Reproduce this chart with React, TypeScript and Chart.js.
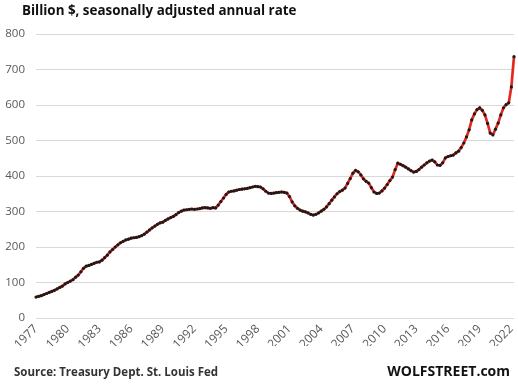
import React, { useEffect, useRef } from "react";
import { Chart, registerables } from "chart.js";

Chart.register(...registerables);

const startYear = 1977;
const yearTicks = ["1977","1980","1983","1986","1989","1992","1995","1998","2001","2004","2007","2010","2013","2016","2019","2022"];
const yTickValues = [0, 100, 200, 300, 400, 500, 600, 700, 800];

// Quarterly values, billion $, 1977Q1 .. 2022Q2
const values = [
  59, 61, 63, 66,      // 1977
  69, 72, 75, 78,      // 1978
  82, 86, 90, 96,      // 1979
  100, 104, 108, 115,  // 1980
  121, 130, 140, 146,  // 1981
  148, 151, 154, 157,  // 1982
  158, 163, 170, 177,  // 1983
  186, 193, 200, 206,  // 1984
  212, 216, 220, 222,  // 1985
  225, 226, 227, 229,  // 1986
  232, 236, 242, 248,  // 1987
  254, 259, 264, 268,  // 1988
  270, 275, 279, 283,  // 1989
  286, 291, 297, 301,  // 1990
  304, 305, 306, 307,  // 1991
  306, 307, 308, 310,  // 1992
  311, 310, 309, 311,  // 1993
  310, 318, 328, 338,  // 1994
  348, 355, 357, 358,  // 1995
  360, 362, 363, 364,  // 1996
  365, 367, 369, 371,  // 1997
  370, 369, 364, 357,  // 1998
  352, 351, 352, 353,  // 1999
  354, 355, 354, 352,  // 2000
  342, 327, 316, 309,  // 2001
  304, 301, 299, 296,  // 2002
  292, 290, 292, 296,  // 2003
  301, 306, 313, 322,  // 2004
  332, 341, 350, 356,  // 2005
  360, 366, 379, 393,  // 2006
  408, 416, 412, 403,  // 2007
  392, 385, 380, 367,  // 2008
  355, 351, 352, 358,  // 2009
  366, 376, 387, 397,  // 2010
  418, 436, 433, 429,  // 2011
  425, 420, 415, 411,  // 2012
  413, 418, 425, 431,  // 2013
  437, 442, 445, 440,  // 2014
  431, 430, 437, 451,  // 2015
  455, 457, 459, 465,  // 2016
  470, 480, 493, 510,  // 2017
  530, 558, 575, 587,  // 2018
  592, 585, 572, 548,  // 2019
  521, 516, 532, 549,  // 2020
  572, 592, 601, 606,  // 2021
  651, 736             // 2022
];

const quarters = values.map((_, i) => `${startYear + Math.floor(i / 4)}Q${(i % 4) + 1}`);

export default function App() {
  const ref = useRef<HTMLCanvasElement | null>(null);

  useEffect(() => {
    if (!ref.current) return;
    const chart = new Chart(ref.current, {
      type: "line",
      data: {
        labels: quarters,
        datasets: [
          {
            data: values,
            borderColor: "#e2281f",
            borderWidth: 2.7,
            pointRadius: 1.6,
            pointBackgroundColor: "#1a1a1a",
            pointBorderWidth: 0,
            tension: 0,
          },
        ],
      },
      options: {
        animation: false,
        responsive: false,
        maintainAspectRatio: false,
        layout: { padding: { top: 34, left: 0, right: 3, bottom: 40 } },
        plugins: { legend: { display: false }, tooltip: { enabled: false }, title: { display: false } },
        scales: {
          x: {
            type: "category",
            grid: { display: false, drawTicks: false },
            border: { display: false },
            ticks: {
              autoSkip: false,
              minRotation: 45,
              maxRotation: 45,
              padding: 4,
              color: "#595959",
              font: { family: "Open Sans", size: 12 },
              callback: function (this: any, _v: any, i: number) {
                const q = quarters[i];
                const y = q.slice(0, 4);
                return q.endsWith("Q1") && yearTicks.includes(y) ? y : "";
              },
            },
            afterFit: (s: any) => { s.height = 28; s.paddingRight = 0; },
          },
          y: {
            min: 0,
            max: 800,
            grid: { color: "#d9d9d9", lineWidth: 1, drawTicks: false },
            border: { display: false },
            afterBuildTicks: (s: any) => { s.ticks = yTickValues.map((v) => ({ value: v })); },
            ticks: {
              padding: 11,
              color: "#595959",
              font: { family: "Open Sans", size: 11.5 },
            },
            afterFit: (s: any) => { s.width = 36; },
          },
        },
      },
    });
    return () => chart.destroy();
  }, []);

  return (
    <div style={{ position: "fixed", left: 0, top: 0, width: 518, height: 386, background: "#fff", overflow: "hidden" }}>
      <canvas ref={ref} width={518} height={386} style={{ position: "absolute", left: 0, top: 0, width: 518, height: 386 }} />
      <div style={{ position: "absolute", left: 22, top: 1, fontFamily: "Open Sans", fontWeight: 700, fontSize: 13.4, color: "#111", whiteSpace: "nowrap" }}>
        Billion $, seasonally adjusted annual rate
      </div>
      <div style={{ position: "absolute", left: 14, top: 364, fontFamily: "Open Sans", fontWeight: 700, fontSize: 11.5, color: "#333", whiteSpace: "nowrap" }}>
        Source: Treasury Dept. St. Louis Fed
      </div>
      <div style={{ position: "absolute", right: 8, top: 361, fontFamily: "Open Sans", fontWeight: 700, fontSize: 14, color: "#111", whiteSpace: "nowrap" }}>
        WOLFSTREET.com
      </div>
    </div>
  );
}
